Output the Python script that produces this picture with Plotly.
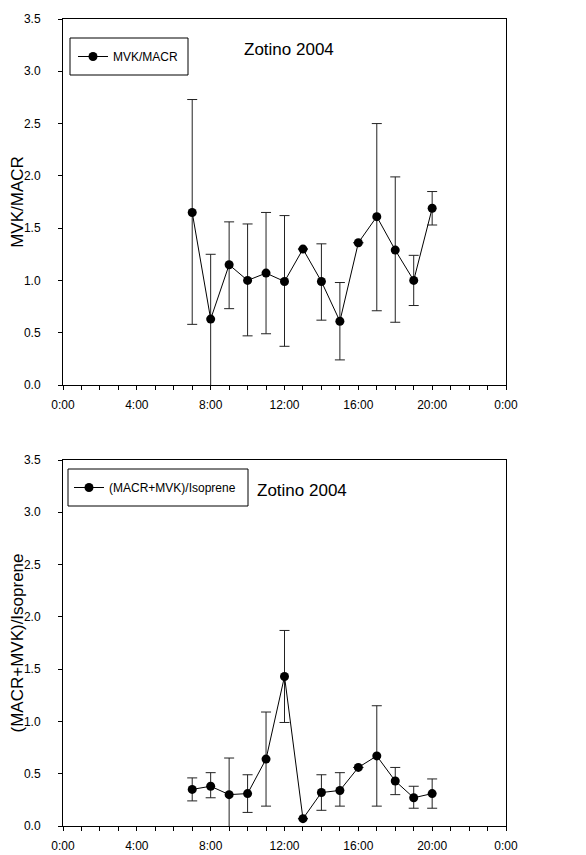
import plotly.graph_objects as go
from plotly.subplots import make_subplots

# ---- data ----
hours = [7, 8, 9, 10, 11, 12, 13, 14, 15, 16, 17, 18, 19, 20]

mvk_macr = [1.65, 0.63, 1.15, 1.00, 1.07, 0.99, 1.30, 0.99, 0.61, 1.36, 1.61, 1.29, 1.00, 1.69]
mvk_macr_hi = [2.73, 1.25, 1.56, 1.54, 1.65, 1.62, 1.30, 1.35, 0.98, 1.36, 2.50, 1.99, 1.24, 1.85]
mvk_macr_lo = [0.58, -0.05, 0.73, 0.47, 0.49, 0.37, 1.30, 0.62, 0.24, 1.36, 0.71, 0.60, 0.76, 1.53]

ratio_iso = [0.35, 0.38, 0.30, 0.31, 0.64, 1.43, 0.07, 0.32, 0.34, 0.56, 0.67, 0.43, 0.27, 0.31]
ratio_iso_hi = [0.46, 0.51, 0.65, 0.49, 1.09, 1.87, 0.07, 0.49, 0.51, 0.56, 1.15, 0.56, 0.38, 0.45]
ratio_iso_lo = [0.24, 0.27, -0.05, 0.13, 0.19, 0.99, 0.07, 0.15, 0.19, 0.56, 0.19, 0.30, 0.17, 0.17]

x_tickvals = [0, 4, 8, 12, 16, 20, 24]
x_ticktext = ["0:00", "4:00", "8:00", "12:00", "16:00", "20:00", "0:00"]
y_tickvals = [0.0, 0.5, 1.0, 1.5, 2.0, 2.5, 3.0, 3.5]
y_ticktext = ["0.0", "0.5", "1.0", "1.5", "2.0", "2.5", "3.0", "3.5"]

titles = ["Zotino 2004", "Zotino 2004"]
series_names = ["MVK/MACR", "(MACR+MVK)/Isoprene"]
y_titles = ["MVK/MACR", "(MACR+MVK)/Isoprene"]

FONT = "Liberation Sans, Arial, sans-serif"

fig = make_subplots(rows=2, cols=1, vertical_spacing=0.0)

def add_series(row, y, hi, lo, name, legend):
    plus = [h - v for h, v in zip(hi, y)]
    minus = [v - l for v, l in zip(y, lo)]
    fig.add_trace(go.Scatter(
        x=hours, y=y, mode="lines+markers", name=name, legend=legend,
        line=dict(color="black", width=1),
        marker=dict(color="black", size=9, symbol="circle"),
        error_y=dict(type="data", symmetric=False, array=plus, arrayminus=minus,
                     color="#222222", thickness=1, width=5),
        showlegend=True,
    ), row=row, col=1)

add_series(1, mvk_macr, mvk_macr_hi, mvk_macr_lo, series_names[0], "legend")
add_series(2, ratio_iso, ratio_iso_hi, ratio_iso_lo, series_names[1], "legend2")

# page body has an 8px margin; the figure is drawn at (8, 8)
OFF = 8
W, H = 586 - OFF, 855 - OFF
L, T = 63 - OFF, 19 - OFF
PW, PH = 443, 807
R = W - L - PW
B = H - T - PH

def py(pix):
    return (826 - pix) / PH

def px(pix):
    return (pix - 63) / PW

xaxis_common = dict(
    range=[0, 24], tickmode="array", tickvals=x_tickvals, ticktext=x_ticktext,
    ticks="outside", ticklen=4, tickcolor="black", tickwidth=1,
    minor=dict(dtick=1, ticks="outside", ticklen=4, tickcolor="black", tickwidth=1),
    showline=True, linecolor="black", linewidth=1, mirror=True,
    showgrid=False, zeroline=False, automargin=False,
    tickfont=dict(family=FONT, size=12, color="black"),
    ticklabelstandoff=5,
)
yaxis_common = dict(
    range=[0, 3.5], tickmode="array", tickvals=y_tickvals, ticktext=y_ticktext,
    ticks="outside", ticklen=4, tickcolor="black", tickwidth=1,
    showline=True, linecolor="black", linewidth=1, mirror=True,
    showgrid=False, zeroline=False, automargin=False,
    tickfont=dict(family=FONT, size=12, color="black"),
    ticklabelstandoff=15,
)

fig.update_layout(
    width=W, height=H,
    margin=dict(l=L, r=R, t=T, b=B),
    paper_bgcolor="white", plot_bgcolor="white",
    font=dict(family=FONT, color="black"),
    xaxis=dict(xaxis_common, domain=[0, 1], anchor="y"),
    xaxis2=dict(xaxis_common, domain=[0, 1], anchor="y2"),
    yaxis=dict(yaxis_common, domain=[py(385), 1.0], anchor="x",
               title=dict(text=y_titles[0], font=dict(family=FONT, size=17), standoff=0)),
    yaxis2=dict(yaxis_common, domain=[0.0, py(460)], anchor="x2",
                title=dict(text=y_titles[1], font=dict(family=FONT, size=17), standoff=0)),
    legend=dict(x=px(73), y=py(56.5), xanchor="left", yanchor="middle",
                bgcolor="rgba(0,0,0,0)", borderwidth=0,
                font=dict(family=FONT, size=12, color="black")),
    legend2=dict(x=px(69), y=py(487.5), xanchor="left", yanchor="middle",
                 bgcolor="rgba(0,0,0,0)", borderwidth=0,
                 font=dict(family=FONT, size=12, color="black")),
    shapes=[
        dict(type="rect", xref="paper", yref="paper",
             x0=px(70), x1=px(188), y0=py(75), y1=py(38),
             line=dict(color="black", width=1), fillcolor="rgba(0,0,0,0)"),
        dict(type="rect", xref="paper", yref="paper",
             x0=px(68), x1=px(248), y0=py(506), y1=py(469),
             line=dict(color="black", width=1), fillcolor="rgba(0,0,0,0)"),
    ],
    annotations=[
        dict(text=titles[0], xref="paper", yref="paper", x=px(289), y=py(49),
             xanchor="center", yanchor="middle", showarrow=False,
             font=dict(family=FONT, size=17, color="black")),
        dict(text=titles[1], xref="paper", yref="paper", x=px(302), y=py(490),
             xanchor="center", yanchor="middle", showarrow=False,
             font=dict(family=FONT, size=17, color="black")),
    ],
)

fig.write_html("out.html")
